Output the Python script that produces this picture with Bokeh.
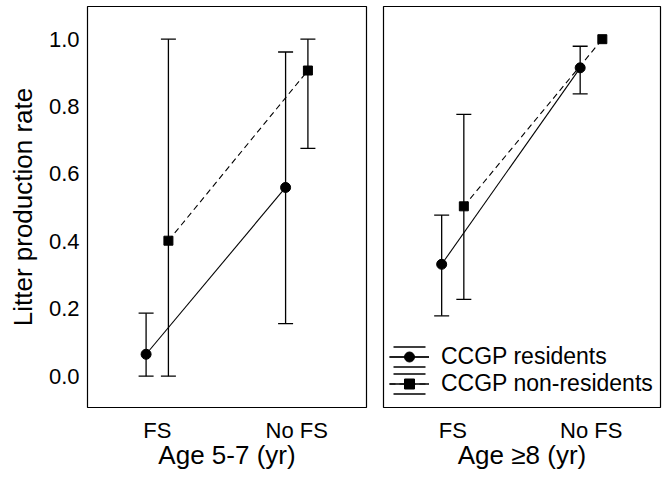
import numpy as np
from bokeh.plotting import figure
from bokeh.layouts import row
from bokeh.models import (ColumnDataSource, FactorRange, Range1d, Legend, LegendItem,
                          FixedTicker, PrintfTickFormatter)
from bokeh.transform import dodge
from bokeh.embed import file_html
from bokeh.resources import INLINE

# ---- data ----
categories = ["FS", "No FS"]
y_ticks = [0.0, 0.2, 0.4, 0.6, 0.8, 1.0]

# Age 5-7
res_57 = np.array([0.065, 0.56])
res_57_lo = np.array([0.0, 0.156])
res_57_hi = np.array([0.187, 0.962])
non_57 = np.array([0.402, 0.907])
non_57_lo = np.array([0.0, 0.676])
non_57_hi = np.array([1.0, 1.0])

# Age >= 8
res_8 = np.array([0.332, 0.915])
res_8_lo = np.array([0.179, 0.838])
res_8_hi = np.array([0.478, 0.979])
non_8 = np.array([0.504, 1.0])
non_8_lo = np.array([0.228, np.nan])
non_8_hi = np.array([0.777, np.nan])

FONT = "Liberation Sans"
OFF = 0.08
GW, GH = 40, 25


def make_panel(xlabel, res, res_lo, res_hi, non, non_lo, non_hi, left, frame_w, bl, br):
    src = ColumnDataSource(dict(cat=categories, res=res, res_lo=res_lo, res_hi=res_hi,
                                non=non, non_lo=non_lo, non_hi=non_hi))
    p = figure(x_range=FactorRange(*categories), y_range=Range1d(-0.093, 1.097),
               frame_width=frame_w, frame_height=401,
               min_border_left=bl, min_border_right=br, min_border_top=6, min_border_bottom=0,
               output_backend="svg", toolbar_location=None)
    p.xgrid.visible = False
    p.ygrid.visible = False
    p.outline_line_color = "black"
    p.outline_line_width = 1.2
    p.background_fill_color = "white"

    xr = dodge("cat", -OFF, range=p.x_range)
    xn = dodge("cat", OFF, range=p.x_range)

    # error bars
    for xx, lo, hi in ((xr, "res_lo", "res_hi"), (xn, "non_lo", "non_hi")):
        p.segment(x0=xx, y0=lo, x1=xx, y1=hi, source=src, line_color="black", line_width=1.3)
        p.scatter(x=xx, y=lo, source=src, marker="dash", size=15, line_color="black", line_width=1.3)
        p.scatter(x=xx, y=hi, source=src, marker="dash", size=15, line_color="black", line_width=1.3)

    res_line = p.line(x=xr, y="res", source=src, line_color="black", line_width=1.1)
    non_line = p.line(x=xn, y="non", source=src, line_color="black", line_width=1.1, line_dash="6 4")
    res_pts = p.scatter(x=xr, y="res", source=src, marker="circle", size=10, color="black")
    non_pts = p.scatter(x=xn, y="non", source=src, marker="square", size=9, color="black")

    # hidden helper renderers, only used to draw the error-bar symbol inside the legend
    cap_dash = "%d %d" % (int(GW * 0.8), int(GH * 0.8))
    helpers = []
    for xx, yy in ((xr, "res"), (xn, "non")):
        c = p.rect(x=xx, y=yy, width=0.1, height=0.1, source=src, fill_color=None,
                   line_color="black", line_width=1.3, line_dash=cap_dash, visible=False)
        v = p.vspan(x=xx, source=src, line_color="black", line_width=1.3, visible=False)
        helpers.append((c, v))

    ax = p.xaxis[0]
    ax.axis_label = xlabel
    ax.axis_line_color = None
    ax.major_tick_line_color = None
    ax.minor_tick_line_color = None
    ax.major_tick_out = 0
    ax.major_label_standoff = 10
    ax.major_label_text_font = FONT
    ax.major_label_text_font_size = "22px"
    ax.major_label_text_color = "black"
    ax.axis_label_text_font = FONT
    ax.axis_label_text_font_size = "26px"
    ax.axis_label_text_font_style = "normal"
    ax.axis_label_text_color = "black"
    ax.axis_label_standoff = -6

    ya = p.yaxis[0]
    if left:
        ya.ticker = FixedTicker(ticks=y_ticks)
        ya.formatter = PrintfTickFormatter(format="%.1f")
        ya.axis_label = "Litter production rate"
        ya.axis_line_color = None
        ya.major_tick_line_color = None
        ya.minor_tick_line_color = None
        ya.major_tick_out = 0
        ya.major_label_standoff = 8
        ya.major_label_text_font = FONT
        ya.major_label_text_font_size = "22px"
        ya.major_label_text_color = "black"
        ya.axis_label_text_font = FONT
        ya.axis_label_text_font_size = "26px"
        ya.axis_label_text_font_style = "normal"
        ya.axis_label_text_color = "black"
        ya.axis_label_standoff = 8
    else:
        ya.visible = False
    return p, res_line, non_line, res_pts, non_pts, helpers


p1, *_ = make_panel("Age 5-7 (yr)", res_57, res_57_lo, res_57_hi, non_57, non_57_lo, non_57_hi,
                    True, 279, 87, 8)
p2, rl, nl, rp, npt, hl = make_panel("Age \u22658 (yr)", res_8, res_8_lo, res_8_hi,
                                     non_8, non_8_lo, non_8_hi, False, 277, 9, 2)

legend = Legend(items=[
    LegendItem(label="CCGP residents", renderers=[hl[0][0], hl[0][1], rl, rp]),
    LegendItem(label="CCGP non-residents", renderers=[hl[1][0], hl[1][1], nl, npt]),
], location=(6, 10), glyph_width=GW, glyph_height=GH, label_height=GH, label_standoff=12,
    spacing=0, padding=0, margin=0, border_line_color=None, background_fill_alpha=0,
    label_text_font=FONT, label_text_font_size="23px", label_text_color="black")
p2.add_layout(legend)

layout = row(p1, p2)
open("out.html", "w").write(file_html(layout, INLINE))
